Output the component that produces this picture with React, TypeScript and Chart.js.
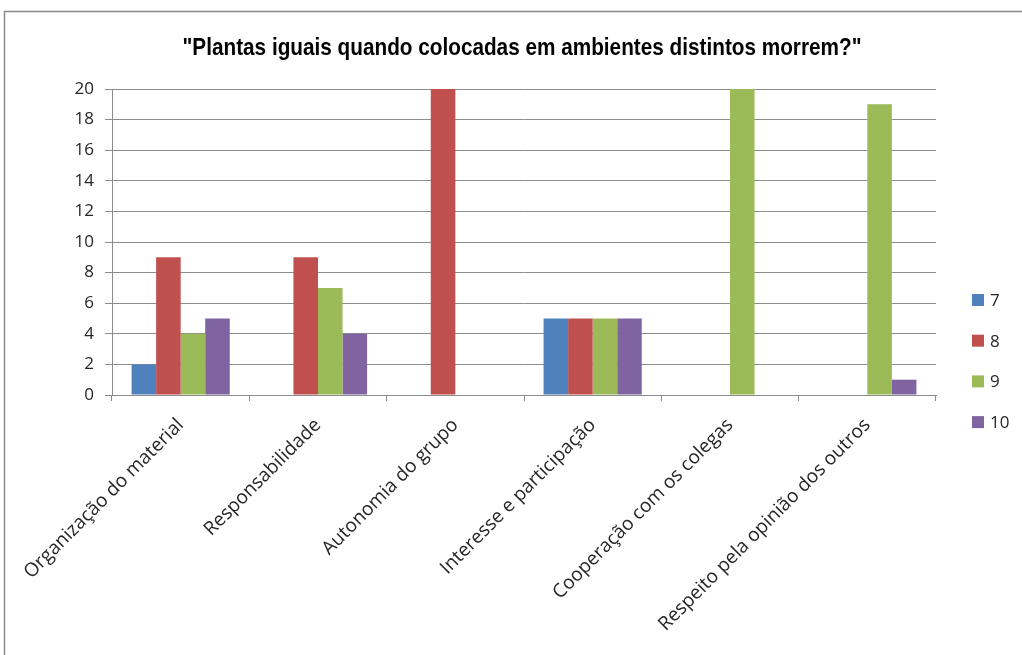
import { useEffect, useRef } from "react";
import { Chart, registerables } from "chart.js";

Chart.register(...registerables);

// Categories and counts per grade (7, 8, 9, 10)
const categories = [
  "Organização do material",
  "Responsabilidade",
  "Autonomia do grupo",
  "Interesse e participação",
  "Cooperação com os colegas",
  "Respeito pela opinião dos outros",
];
const seriesNames = ["7", "8", "9", "10"];
const values7 = [2, 0, 0, 5, 0, 0];
const values8 = [9, 9, 20, 5, 0, 0];
const values9 = [4, 7, 0, 5, 20, 19];
const values10 = [5, 4, 0, 5, 0, 1];
const seriesColors = ["#4F81BD", "#C0504D", "#9BBB59", "#8064A2"];
const yMin = 0;
const yMax = 20;
const yStep = 2;
const titleText = '"Plantas iguais quando colocadas em ambientes distintos morrem?"';

const GRID = "#8c8c8c";
const TEXT = "#262626";

// Thin grey frame around the chart
const framePlugin = {
  id: "frame",
  beforeDraw(chart: Chart) {
    const { ctx, width, height } = chart;
    ctx.save();
    ctx.fillStyle = "#ffffff";
    ctx.fillRect(0, 0, width, height);
    ctx.strokeStyle = "#8a8a8a";
    ctx.lineWidth = 1.5;
    ctx.beginPath();
    ctx.moveTo(width, 11.5);
    ctx.lineTo(4.5, 11.5);
    ctx.lineTo(4.5, height);
    ctx.stroke();
    ctx.restore();
  },
};

// Condensed bold title, squeezed horizontally to its box width
const condensedTitlePlugin = {
  id: "condensedTitle",
  afterDraw(chart: Chart) {
    const { ctx } = chart;
    const centerX = 522;
    const baseline = 55;
    const boxWidth = 679;
    ctx.save();
    ctx.font = "bold 24px 'Liberation Sans'";
    ctx.fillStyle = "#000000";
    ctx.textBaseline = "alphabetic";
    ctx.textAlign = "center";
    const natural = ctx.measureText(titleText).width;
    const sx = boxWidth / natural;
    ctx.translate(centerX, baseline);
    ctx.scale(sx, 1);
    ctx.fillText(titleText, 0, 0);
    ctx.restore();
  },
};

// Vertical legend on the right, drawn from the datasets
const sideLegendPlugin = {
  id: "sideLegend",
  afterDraw(chart: Chart) {
    const { ctx } = chart;
    const x = 972;
    const startY = 300;
    const gap = 40.7;
    ctx.save();
    ctx.font = "17px 'Open Sans'";
    ctx.textBaseline = "middle";
    chart.data.datasets.forEach((ds: any, i: number) => {
      const cy = startY + i * gap;
      ctx.fillStyle = ds.backgroundColor as string;
      ctx.fillRect(x, cy - 6, 12, 12);
      ctx.fillStyle = TEXT;
      ctx.fillText(String(ds.label), x + 18, cy + 1);
    });
    ctx.restore();
  },
};

export default function App() {
  const canvasRef = useRef<HTMLCanvasElement | null>(null);

  useEffect(() => {
    if (!canvasRef.current) return;
    const allValues = [values7, values8, values9, values10];
    const chart = new Chart(canvasRef.current, {
      type: "bar",
      data: {
        labels: categories,
        datasets: seriesNames.map((name, i) => ({
          label: name,
          data: allValues[i],
          backgroundColor: seriesColors[i],
          borderWidth: 0,
          categoryPercentage: 0.715,
          barPercentage: 1.0,
        })),
      },
      options: {
        animation: false,
        responsive: false,
        maintainAspectRatio: false,
        layout: { padding: { left: 0, right: 86, top: 89, bottom: 0 } },
        plugins: {
          legend: { display: false },
          tooltip: { enabled: false },
          title: { display: false },
        },
        scales: {
          x: {
            afterFit(scale: any) {
              scale.height = 260;
            },
            grid: {
              display: true,
              drawOnChartArea: false,
              drawTicks: true,
              tickLength: 6,
              color: GRID,
              offset: true,
            },
            border: { display: true, color: GRID },
            ticks: {
              maxRotation: 45,
              minRotation: 45,
              color: TEXT,
              font: { family: "'Open Sans'", size: 19 },
              padding: 13,
            },
          },
          y: {
            min: yMin,
            max: yMax,
            afterFit(scale: any) {
              scale.width = 112;
            },
            ticks: {
              stepSize: yStep,
              color: TEXT,
              font: { family: "'Open Sans'", size: 17 },
              padding: 11,
            },
            grid: { color: GRID, tickLength: 7, drawTicks: true },
            border: { display: true, color: GRID },
          },
        },
      },
      plugins: [framePlugin, condensedTitlePlugin, sideLegendPlugin],
    });
    return () => chart.destroy();
  }, []);

  return (
    <div style={{ position: "fixed", left: 0, top: 0, width: 1022, height: 655 }}>
      <canvas ref={canvasRef} width={1022} height={655} style={{ width: 1022, height: 655 }} />
    </div>
  );
}
